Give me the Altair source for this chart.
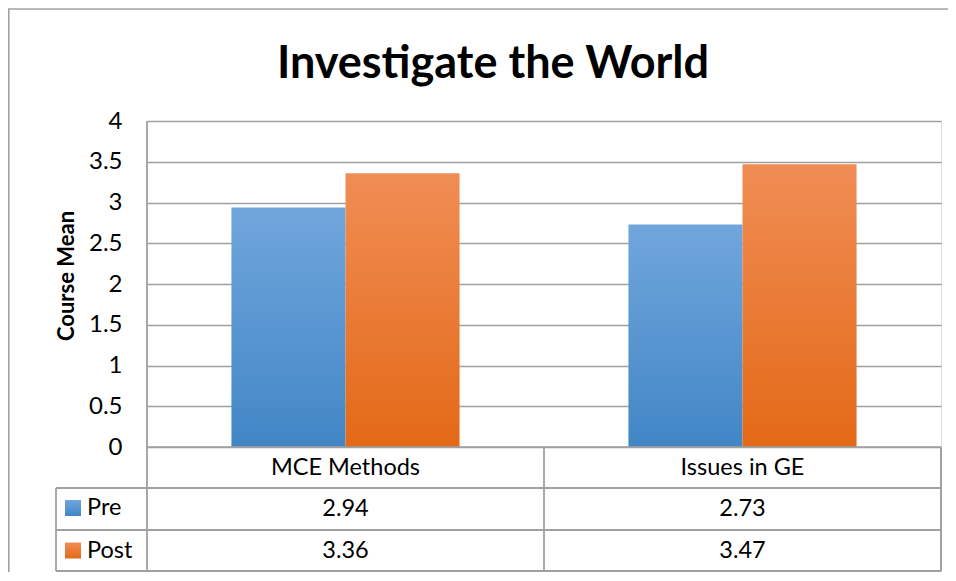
import altair as alt
import pandas as pd

TITLE = "Investigate the World"
Y_TITLE = "Course Mean"
categories = ["MCE Methods", "Issues in GE"]
series = ["Pre", "Post"]
pre_values = [2.94, 2.73]
post_values = [3.36, 3.47]
y_ticks = [0, 0.5, 1, 1.5, 2, 2.5, 3, 3.5, 4]

rows = []
for s, vals in zip(series, [pre_values, post_values]):
    for c, v in zip(categories, vals):
        rows.append({"cat": c, "series": s, "value": v, "label": f"{v:.2f}"})
df = pd.DataFrame(rows)
cat_df = pd.DataFrame({"cat": categories})
ser_df = pd.DataFrame({"series": series})
one = pd.DataFrame({"k": [0]})

W, H = 794, 450
FONT = "Lato"
GRID = "#A0A0A0"
TFS = 23.5

blue = alt.LinearGradient(gradient="linear", x1=0, y1=0, x2=0, y2=1,
                          stops=[alt.GradientStop(color="#70A6DC", offset=0),
                                 alt.GradientStop(color="#4286C6", offset=1)])
orange = alt.LinearGradient(gradient="linear", x1=0, y1=0, x2=0, y2=1,
                            stops=[alt.GradientStop(color="#F08D55", offset=0),
                                   alt.GradientStop(color="#E36917", offset=1)])

xscale = alt.Scale(domain=categories, paddingInner=0, paddingOuter=0)
yscale = alt.Scale(domain=[-1.52, 4], nice=False, zero=False)

def bars(s, fill):
    return alt.Chart(df).transform_filter(alt.datum.series == s).mark_bar(fill=fill, stroke=None).encode(
        x=alt.X("cat:N", scale=xscale, axis=None),
        xOffset=alt.XOffset("series:N", scale=alt.Scale(domain=series, paddingInner=0, paddingOuter=0.74)),
        y=alt.Y("value:Q", scale=yscale,
                axis=alt.Axis(values=y_ticks, format="~g", grid=True, gridColor=GRID, gridWidth=1.7,
                              domain=False, ticks=False, labelPadding=25, title=None,
                              labelFont=FONT, labelFontSize=24, labelColor="black")),
    )

base_bar = bars("Pre", blue)
post_bar = bars("Post", orange)

def hline(ypix, x0=-91):
    return alt.Chart(one).mark_rule(color=GRID, strokeWidth=1.8).encode(
        x=alt.value(x0), x2=alt.value(W), y=alt.value(ypix))

def vline(x0, y0, y1):
    return alt.Chart(one).mark_rule(color=GRID, strokeWidth=1.8).encode(
        x=alt.value(x0), y=alt.value(y0), y2=alt.value(y1))

zero_line = alt.Chart(one).mark_rule(color=GRID, strokeWidth=1.8).encode(
    x=alt.value(0), x2=alt.value(W), y=alt.Y(datum=0, scale=yscale))

cat_sep = alt.Chart(cat_df).mark_rule(color=GRID, strokeWidth=1.8).encode(
    x=alt.X("cat:N", bandPosition=1, scale=xscale, axis=None),
    y=alt.Y(datum=0, scale=yscale), y2=alt.value(H))

frame_top = alt.Chart(one).mark_rule(color="#A0A0A0", strokeWidth=1.6).encode(
    x=alt.value(-139), x2=alt.value(W + 20), y=alt.value(-112))
frame_left = alt.Chart(one).mark_rule(color="#A0A0A0", strokeWidth=1.6).encode(
    x=alt.value(-138.2), y=alt.value(-112), y2=alt.value(H + 2))

cat_text = alt.Chart(cat_df).mark_text(font=FONT, fontSize=TFS, color="black", baseline="middle").encode(
    x=alt.X("cat:N", scale=xscale, axis=None), y=alt.value(347), text="cat:N")

def val_text(s, ypix):
    return alt.Chart(df).transform_filter(alt.datum.series == s).mark_text(
        font=FONT, fontSize=TFS, color="black", baseline="middle").encode(
        x=alt.X("cat:N", scale=xscale, axis=None), y=alt.value(ypix), text="label:N")

def row_label(s, ypix, fill):
    sq = alt.Chart(ser_df).transform_filter(alt.datum.series == s).mark_square(
        size=256, fill=fill, opacity=1, strokeWidth=0).encode(x=alt.value(-74), y=alt.value(ypix))
    tx = alt.Chart(ser_df).transform_filter(alt.datum.series == s).mark_text(
        font=FONT, fontSize=TFS, color="black", align="left", baseline="middle").encode(
        x=alt.value(-60), y=alt.value(ypix), text="series:N")
    return [sq, tx]

title = alt.Chart(pd.DataFrame({"t": [TITLE]})).mark_text(
    font=FONT, fontSize=45, fontWeight="bold", color="black", baseline="alphabetic").encode(
    x=alt.value(346), y=alt.value(-43.5), text="t:N")

ytitle = alt.Chart(pd.DataFrame({"t": [Y_TITLE]})).mark_text(
    font=FONT, fontSize=22, fontWeight="bold", color="black", angle=270, baseline="middle").encode(
    x=alt.value(-80), y=alt.value(155), text="t:N")

layers = [base_bar, post_bar, zero_line, cat_sep,
          hline(367), hline(409), hline(H),
          vline(-91, 367, H), vline(0, 0, H), vline(W, 326, H),
          frame_top, frame_left, cat_text,
          val_text("Pre", 388), val_text("Post", 430),
          *row_label("Pre", 387, blue), *row_label("Post", 429.5, orange),
          title, ytitle]

chart = alt.layer(*layers).properties(
    width=W, height=H,
    autosize=alt.AutoSizeParams(type="none"),
    padding={"left": 139, "top": 113, "right": 7, "bottom": 1},
).configure_view(stroke=None).configure(background="white")

chart.save("out.html", embed_options={"renderer": "svg", "actions": False})
